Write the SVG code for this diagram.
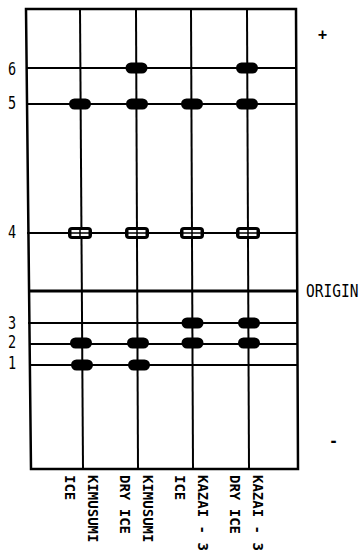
<svg xmlns="http://www.w3.org/2000/svg" width="360" height="558" viewBox="0 0 360 558">
<style>
.g{stroke:#000;stroke-width:2;fill:none;stroke-linecap:square}
.b{stroke:#000;stroke-width:2.5;fill:none}
.o{stroke:#000;stroke-width:3;fill:none}
.t{font-family:"DejaVu Sans Mono","Liberation Mono",monospace;font-size:14.5px;fill:#000}
.d{font-family:"DejaVu Sans Mono","Liberation Mono",monospace;font-size:15px;fill:#000}
.l{font-family:"DejaVu Sans Mono","Liberation Mono",monospace;font-size:14px;font-weight:bold;fill:#000}
</style>
<defs>
<rect id="pill" x="-11" y="-5.5" width="22" height="11" rx="5.5" fill="#000"/>
<g id="hollow">
<rect x="-12" y="-6" width="24" height="12" rx="4" fill="#000"/>
<rect x="-8.5" y="-3" width="17" height="6" fill="#fff"/>
<line x1="-9" y1="0" x2="9" y2="0" stroke="#000" stroke-width="1.5"/>
<line x1="0" y1="-4" x2="0" y2="4" stroke="#000" stroke-width="1.5"/>
</g>
</defs>
<rect width="360" height="558" fill="#fff"/>
<g id="connectors">
<polygon class="b" points="26,9 296,9 298,469 31,469"/>
<line class="g" x1="80" y1="9" x2="83" y2="469"/>
<line class="g" x1="136" y1="9" x2="138" y2="469"/>
<line class="g" x1="191" y1="9" x2="193" y2="469"/>
<line class="g" x1="247" y1="9" x2="249" y2="469"/>
<line class="g" x1="27" y1="68" x2="296" y2="68"/>
<line class="g" x1="27" y1="104" x2="296" y2="104"/>
<line class="g" x1="28" y1="233" x2="297" y2="233"/>
<line class="o" x1="29" y1="291" x2="297" y2="291"/>
<line class="g" x1="29" y1="323" x2="297" y2="323"/>
<line class="g" x1="30" y1="344" x2="297" y2="344"/>
<line class="g" x1="30" y1="365" x2="297" y2="365"/>
</g>
<g id="axis-labels">
<text class="d" transform="translate(8,75) scale(0.9,1.15)">6</text>
<text class="d" transform="translate(8,109) scale(0.9,1.15)">5</text>
<text class="d" transform="translate(8,238) scale(0.9,1.15)">4</text>
<text class="d" transform="translate(8,329) scale(0.9,1.15)">3</text>
<text class="d" transform="translate(8,348) scale(0.9,1.15)">2</text>
<text class="d" transform="translate(8,369) scale(0.9,1.15)">1</text>
<text class="t" transform="translate(306,297) scale(1,1.25)">ORIGIN</text>
<text class="d" x="318" y="40" font-size="11" font-weight="bold">+</text>
<text class="d" x="329" y="446" font-weight="bold">-</text>
</g>
<g id="row6">
<use href="#pill" x="136.5" y="68"/>
<use href="#pill" x="247" y="68"/>
</g>
<g id="row5">
<use href="#pill" x="80" y="104"/>
<use href="#pill" x="137" y="104"/>
<use href="#pill" x="192" y="104"/>
<use href="#pill" x="247" y="104"/>
</g>
<g id="row4">
<use href="#hollow" x="80" y="233"/>
<use href="#hollow" x="137" y="233"/>
<use href="#hollow" x="192" y="233"/>
<use href="#hollow" x="248" y="233"/>
</g>
<g id="row3">
<use href="#pill" x="192.5" y="323"/>
<use href="#pill" x="249" y="323"/>
</g>
<g id="row2">
<use href="#pill" x="81" y="343"/>
<use href="#pill" x="138" y="343"/>
<use href="#pill" x="192.5" y="343"/>
<use href="#pill" x="249" y="343"/>
</g>
<g id="row1">
<use href="#pill" x="82" y="365"/>
<use href="#pill" x="139" y="365"/>
</g>
<g id="lane-labels">
<text class="l" transform="translate(65,475) rotate(90)">ICE</text>
<text class="l" transform="translate(88,475) rotate(90)">KIMUSUMI</text>
<text class="l" transform="translate(120,475) rotate(90)">DRY ICE</text>
<text class="l" transform="translate(143,475) rotate(90)">KIMUSUMI</text>
<text class="l" transform="translate(175,475) rotate(90)">ICE</text>
<text class="l" transform="translate(198,475) rotate(90)">KAZAI - 3</text>
<text class="l" transform="translate(230,475) rotate(90)">DRY ICE</text>
<text class="l" transform="translate(253,475) rotate(90)">KAZAI - 3</text>
</g>
</svg>
